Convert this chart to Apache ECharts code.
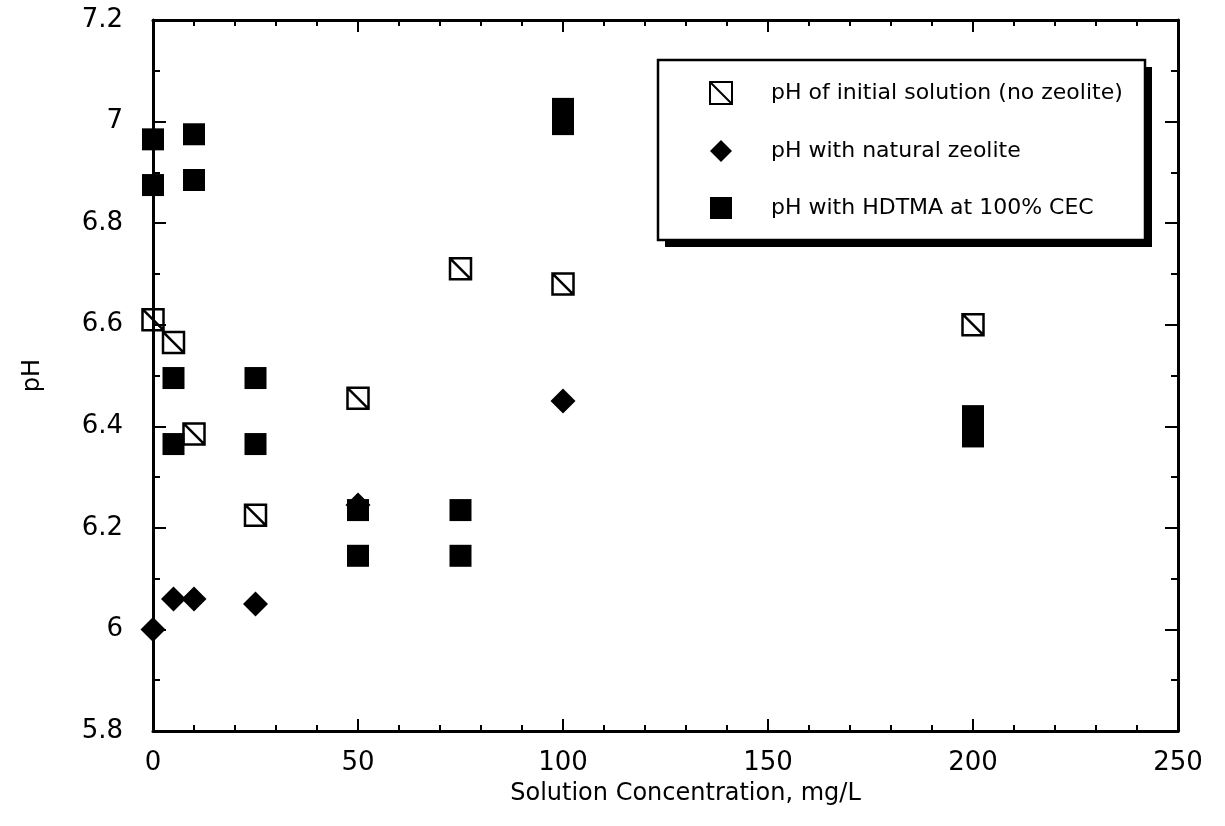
<!DOCTYPE html>
<html>
<head>
<meta charset="utf-8">
<title>pH vs Solution Concentration</title>
<script src="https://cdn.jsdelivr.net/npm/echarts@6/dist/echarts.min.js"></script>
<style>
  html, body { margin: 0; padding: 0; background: #fff; }
  #chart { width: 1225px; height: 826px; }
</style>
</head>
<body>
<div id="chart"></div>
<script>
// Series names
const seriesNames = [
  'pH of initial solution (no zeolite)',
  'pH with natural zeolite',
  'pH with HDTMA at 100% CEC'
];

// Solution concentration (mg/L) and measured pH for each series
const initialConc = [0, 5, 10, 25, 50, 75, 100, 200];
const initialPH   = [6.61, 6.565, 6.385, 6.225, 6.455, 6.71, 6.68, 6.60];

const naturalConc = [0, 5, 10, 25, 50, 100];
const naturalPH   = [6.00, 6.06, 6.06, 6.05, 6.245, 6.45];

const hdtmaConc = [0, 0, 5, 5, 10, 10, 25, 25, 50, 50, 75, 75, 100, 100, 200, 200];
const hdtmaPH   = [6.965, 6.875, 6.495, 6.365, 6.975, 6.885, 6.495, 6.365,
                   6.235, 6.145, 6.235, 6.145, 7.025, 6.995, 6.42, 6.38];

// Axis ranges
const xMin = 0, xMax = 250, xStep = 50;
const yMin = 5.8, yMax = 7.2, yStep = 0.2;

const pairs = (xs, ys) => xs.map((x, i) => [x, ys[i]]);

// Open square with a diagonal stroke
const hatchedSquare = 'path://M0,0L20,0L20,20L0,20ZM0,0L20,20';

const FONT = 'DejaVu Sans';
const INK = '#000';

const axisCommon = {
  axisLine: { show: true, onZero: false, lineStyle: { color: INK, width: 3 } },
  splitLine: { show: false }
};

const chart = echarts.init(document.getElementById('chart'));

chart.setOption({
  backgroundColor: '#fff',
  animation: false,
  grid: { left: 153, right: 47, top: 20, bottom: 95, containLabel: false },
  xAxis: [
    Object.assign({}, axisCommon, {
      type: 'value', position: 'bottom',
      min: xMin, max: xMax, interval: xStep,
      name: 'Solution Concentration, mg/L',
      nameLocation: 'middle', nameGap: 51,
      nameTextStyle: { fontFamily: FONT, fontSize: 24, color: INK, padding: [0, 0, 0, 40] },
      axisTick: { show: true, inside: true, length: 12, lineStyle: { color: INK, width: 2 } },
      minorTick: { show: true, splitNumber: 5, length: 6, lineStyle: { color: INK, width: 2 } },
      axisLabel: { fontFamily: FONT, fontSize: 26, color: INK, margin: 19 }
    }),
    Object.assign({}, axisCommon, {
      type: 'value', position: 'top',
      min: xMin, max: xMax, interval: xStep,
      axisTick: { show: true, inside: true, length: 12, lineStyle: { color: INK, width: 2 } },
      minorTick: { show: true, splitNumber: 5, length: 6, lineStyle: { color: INK, width: 2 } },
      axisLabel: { show: false }
    })
  ],
  yAxis: [
    Object.assign({}, axisCommon, {
      type: 'value', position: 'left',
      min: yMin, max: yMax, interval: yStep,
      name: 'pH', nameLocation: 'middle', nameGap: 108, nameRotate: 90,
      nameTextStyle: { fontFamily: FONT, fontSize: 24, color: INK },
      axisTick: { show: true, inside: true, length: 13, lineStyle: { color: INK, width: 2 } },
      minorTick: { show: true, splitNumber: 2, length: 7, lineStyle: { color: INK, width: 2 } },
      axisLabel: { fontFamily: FONT, fontSize: 26, color: INK, margin: 30,
                   formatter: v => String(+v.toFixed(1)) }
    }),
    Object.assign({}, axisCommon, {
      type: 'value', position: 'right',
      min: yMin, max: yMax, interval: yStep,
      axisTick: { show: true, inside: true, length: 13, lineStyle: { color: INK, width: 2 } },
      minorTick: { show: true, splitNumber: 2, length: 7, lineStyle: { color: INK, width: 2 } },
      axisLabel: { show: false }
    })
  ],
  // Legend frame with a hard drop shadow
  graphic: [
    { type: 'rect', z: 5, shape: { x: 665, y: 67, width: 487, height: 180 },
      style: { fill: INK } },
    { type: 'rect', z: 6, shape: { x: 658, y: 60, width: 487, height: 180 },
      style: { fill: '#fff', stroke: INK, lineWidth: 2.5 } }
  ],
  legend: {
    z: 10,
    orient: 'vertical',
    left: 704, top: 76,
    itemWidth: 22, itemHeight: 22, itemGap: 35,
    textStyle: { fontFamily: FONT, fontSize: 22, color: INK, padding: [0, 0, 0, 34] },
    data: [
      { name: seriesNames[0], icon: hatchedSquare,
        itemStyle: { color: '#fff', borderColor: INK, borderWidth: 2 } },
      { name: seriesNames[1], icon: 'diamond', itemStyle: { color: INK } },
      { name: seriesNames[2], icon: 'rect', itemStyle: { color: INK } }
    ]
  },
  series: [
    {
      name: seriesNames[0], type: 'scatter',
      symbol: hatchedSquare, symbolSize: 21,
      itemStyle: { color: 'rgba(255,255,255,0)', borderColor: INK, borderWidth: 2.5, opacity: 1 },
      data: pairs(initialConc, initialPH)
    },
    {
      name: seriesNames[1], type: 'scatter',
      symbol: 'diamond', symbolSize: 25,
      itemStyle: { color: INK, opacity: 1 },
      data: pairs(naturalConc, naturalPH)
    },
    {
      name: seriesNames[2], type: 'scatter',
      symbol: 'rect', symbolSize: 22,
      itemStyle: { color: INK, opacity: 1 },
      data: pairs(hdtmaConc, hdtmaPH)
    }
  ]
});
</script>
</body>
</html>
